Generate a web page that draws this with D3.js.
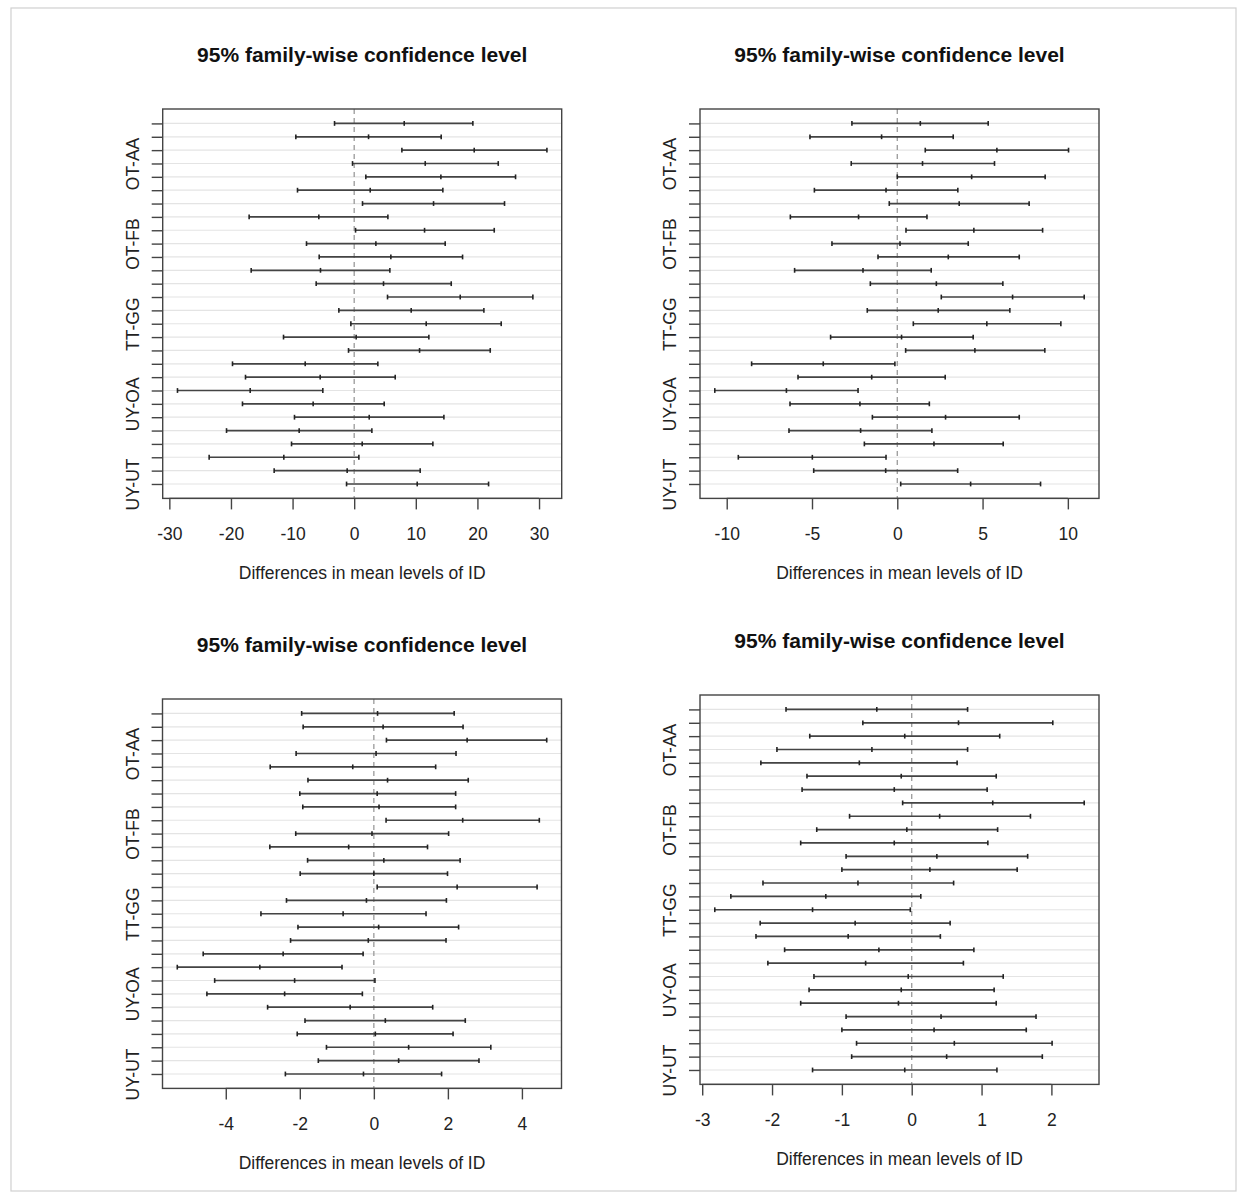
<!DOCTYPE html>
<html>
<head>
<meta charset="utf-8">
<script src="https://cdn.jsdelivr.net/npm/d3@7"></script>
<style>
  html, body { margin: 0; padding: 0; background: #fff; }
  svg { display: block; font-family: "Liberation Sans", Arial, Helvetica, sans-serif; }
</style>
</head>
<body>
<svg id="chart" width="1247" height="1199"></svg>
<script>
// ---- Data ----
const comparisons = ["FB-AA","GG-AA","OA-AA","OT-AA","TT-AA","UT-AA","UY-AA",
  "GG-FB","OA-FB","OT-FB","TT-FB","UT-FB","UY-FB",
  "OA-GG","OT-GG","TT-GG","UT-GG","UY-GG",
  "OT-OA","TT-OA","UT-OA","UY-OA",
  "TT-OT","UT-OT","UY-OT",
  "UT-TT","UY-TT","UY-UT"];

const title = "95% family-wise confidence level";
const xLabel = "Differences in mean levels of ID";

// Panel 1 (top-left)
const p1Lwr  = [-3.19,-9.47,7.74,-0.27,1.89,-9.2,1.35,-17.05,0.22,-7.74,-5.68,-16.72,-6.17,5.41,-2.49,-0.54,-11.47,-0.92,-19.75,-17.64,-28.68,-18.13,-9.69,-20.72,-10.17,-23.54,-12.99,-1.24];
const p1Diff = [8.12,2.33,19.48,11.53,14.07,2.6,12.88,-5.74,11.42,3.52,5.95,-5.47,4.76,17.21,9.25,11.69,0.32,10.61,-7.95,-5.52,-16.88,-6.66,2.44,-8.93,1.3,-11.42,-1.14,10.23];
const p1Upr  = [19.26,14.12,31.28,23.38,26.19,14.39,24.4,5.47,22.73,14.77,17.59,5.79,15.75,29.0,21.05,23.86,12.12,22.08,3.84,6.66,-5.09,4.87,14.56,2.87,12.77,0.76,10.71,21.81];
const p1Ticks = [-30,-20,-10,0,10,20,30];

// Panel 2 (top-right)
const p2Lwr  = [-2.66,-5.12,1.64,-2.7,0.0,-4.86,-0.47,-6.27,0.51,-3.83,-1.13,-6.02,-1.58,2.58,-1.76,0.94,-3.91,0.49,-8.54,-5.82,-10.7,-6.29,-1.46,-6.35,-1.93,-9.32,-4.9,0.2];
const p2Diff = [1.35,-0.92,5.84,1.48,4.36,-0.66,3.63,-2.27,4.49,0.16,2.99,-2.01,2.29,6.76,2.4,5.25,0.25,4.55,-4.34,-1.5,-6.5,-2.19,2.83,-2.15,2.15,-4.98,-0.68,4.3];
const p2Upr  = [5.33,3.28,10.04,5.7,8.67,3.55,7.73,1.74,8.52,4.16,7.15,1.99,6.19,10.96,6.6,9.59,4.45,8.65,-0.14,2.81,-2.3,1.88,7.15,2.03,6.21,-0.66,3.54,8.4];
const p2Ticks = [-10,-5,0,5,10];

// Panel 3 (bottom-left)
const p3Lwr  = [-1.95,-1.91,0.34,-2.1,-2.8,-1.78,-2.0,-1.92,0.33,-2.11,-2.81,-1.79,-1.99,0.09,-2.36,-3.05,-2.05,-2.25,-4.61,-5.31,-4.3,-4.51,-2.87,-1.86,-2.07,-1.28,-1.5,-2.39];
const p3Diff = [0.1,0.25,2.52,0.06,-0.57,0.37,0.09,0.14,2.4,-0.05,-0.68,0.27,0.0,2.25,-0.2,-0.83,0.13,-0.15,-2.45,-3.08,-2.14,-2.41,-0.64,0.31,0.04,0.94,0.67,-0.28];
const p3Upr  = [2.17,2.41,4.67,2.22,1.67,2.55,2.21,2.21,4.47,2.02,1.45,2.33,1.99,4.41,1.96,1.41,2.29,1.95,-0.29,-0.86,0.03,-0.31,1.59,2.47,2.14,3.16,2.84,1.83];
const p3Ticks = [-4,-2,0,2,4];

// Panel 4 (bottom-right)
const p4Lwr  = [-1.8,-0.7,-1.46,-1.93,-2.16,-1.5,-1.57,-0.13,-0.89,-1.36,-1.59,-0.94,-1.0,-2.13,-2.59,-2.82,-2.17,-2.23,-1.82,-2.06,-1.4,-1.47,-1.59,-0.94,-1.0,-0.79,-0.86,-1.42];
const p4Diff = [-0.5,0.67,-0.1,-0.57,-0.75,-0.15,-0.25,1.16,0.4,-0.07,-0.25,0.36,0.26,-0.77,-1.23,-1.42,-0.81,-0.91,-0.47,-0.66,-0.05,-0.15,-0.19,0.42,0.32,0.61,0.5,-0.1];
const p4Upr  = [0.8,2.02,1.26,0.8,0.65,1.21,1.08,2.47,1.7,1.23,1.09,1.66,1.51,0.6,0.13,-0.02,0.55,0.41,0.89,0.74,1.31,1.18,1.21,1.78,1.64,2.01,1.87,1.22];
const p4Ticks = [-3,-2,-1,0,1,2];

// ---- Layout ----
const panels = [
  { lwr: p1Lwr, diff: p1Diff, upr: p1Upr, ticks: p1Ticks, left: 162.7, top: 109, width: 399, height: 389.4 },
  { lwr: p2Lwr, diff: p2Diff, upr: p2Upr, ticks: p2Ticks, left: 700,   top: 109, width: 399, height: 389.4 },
  { lwr: p3Lwr, diff: p3Diff, upr: p3Upr, ticks: p3Ticks, left: 162.5, top: 699, width: 399, height: 389.4 },
  { lwr: p4Lwr, diff: p4Diff, upr: p4Upr, ticks: p4Ticks, left: 700,   top: 695, width: 399, height: 389.4 }
];

const FONT = 17.5;
const svg = d3.select("#chart");

// outer light frame
svg.append("rect")
  .attr("x", 11).attr("y", 8).attr("width", 1225).attr("height", 1183)
  .attr("fill", "none").attr("stroke", "#d0d0d0").attr("stroke-width", 1.2);

panels.forEach(p => {
  const n = comparisons.length;
  const rows = comparisons.map((c, i) => ({ name: c, idx: i, lwr: p.lwr[i], diff: p.diff[i], upr: p.upr[i] }));

  // R-style domain: data range extended by 4%
  const lo = d3.min(p.lwr), hi = d3.max(p.upr);
  const ext = (hi - lo) * 0.04;
  const x = d3.scaleLinear().domain([lo - ext, hi + ext]).range([p.left, p.left + p.width]);
  const yext = (n - 1) * 0.04;
  const y = d3.scaleLinear().domain([1 - yext, n + yext]).range([p.top, p.top + p.height]);

  const g = svg.append("g");

  // grid lines
  g.selectAll("line.grid").data(rows).enter().append("line")
    .attr("x1", p.left).attr("x2", p.left + p.width)
    .attr("y1", d => y(d.idx + 1)).attr("y2", d => y(d.idx + 1))
    .attr("stroke", "#e4e4e4").attr("stroke-width", 1.2);

  // zero dashed line
  g.append("line")
    .attr("x1", x(0)).attr("x2", x(0))
    .attr("y1", p.top).attr("y2", p.top + p.height)
    .attr("stroke", "#9a9a9a").attr("stroke-width", 1.3)
    .attr("stroke-dasharray", "5,4");

  // interval segments
  g.selectAll("line.seg").data(rows).enter().append("line")
    .attr("x1", d => x(d.lwr)).attr("x2", d => x(d.upr))
    .attr("y1", d => y(d.idx + 1)).attr("y2", d => y(d.idx + 1))
    .attr("stroke", "#444").attr("stroke-width", 1.7);

  // end & center marks
  ["lwr", "diff", "upr"].forEach(k => {
    g.selectAll("line.m" + k).data(rows).enter().append("line")
      .attr("x1", d => x(d[k])).attr("x2", d => x(d[k]))
      .attr("y1", d => y(d.idx + 1) - 2.4).attr("y2", d => y(d.idx + 1) + 2.4)
      .attr("stroke", "#222").attr("stroke-width", 1.6);
  });

  // box
  g.append("rect")
    .attr("x", p.left).attr("y", p.top).attr("width", p.width).attr("height", p.height)
    .attr("fill", "none").attr("stroke", "#444").attr("stroke-width", 1.4);

  // x axis
  const xAxis = d3.axisBottom(x).tickValues(p.ticks).tickSize(11).tickPadding(18)
    .tickFormat(d => d < 0 ? "-" + Math.abs(d) : String(d));
  const ax = g.append("g").attr("transform", `translate(0,${p.top + p.height})`).call(xAxis);
  ax.select(".domain").attr("d", `M${x(p.ticks[0])},0H${x(p.ticks[p.ticks.length - 1])}`)
    .attr("stroke", "#444").attr("stroke-width", 1.4);
  ax.selectAll(".tick line").attr("stroke", "#444").attr("stroke-width", 1.4);
  ax.selectAll(".tick text").attr("font-size", FONT).attr("fill", "#222")
    .attr("font-family", "Liberation Sans, Arial, sans-serif");

  // y axis
  const yAxis = d3.axisLeft(y).tickValues(d3.range(1, n + 1)).tickSize(11).tickPadding(14)
    .tickFormat(v => (v - 1) % 6 === 3 ? comparisons[v - 1] : "");
  const ay = g.append("g").attr("transform", `translate(${p.left},0)`).call(yAxis);
  ay.select(".domain").remove();
  ay.selectAll(".tick line").attr("stroke", "#444").attr("stroke-width", 1.4);
  ay.selectAll(".tick text")
    .attr("font-size", FONT).attr("fill", "#222")
    .attr("font-family", "Liberation Sans, Arial, sans-serif")
    .attr("text-anchor", "middle")
    .attr("x", null).attr("dy", null)
    .attr("transform", "translate(-24,0) rotate(-90)")
    .attr("y", 0);

  // title
  g.append("text")
    .attr("x", p.left + p.width / 2).attr("y", p.top - 47.5)
    .attr("text-anchor", "middle").attr("font-size", 21).attr("font-weight", "bold")
    .attr("fill", "#111").text(title);

  // x label
  g.append("text")
    .attr("x", p.left + p.width / 2).attr("y", p.top + p.height + 81)
    .attr("text-anchor", "middle").attr("font-size", FONT)
    .attr("fill", "#222").text(xLabel);
});
</script>
</body>
</html>
